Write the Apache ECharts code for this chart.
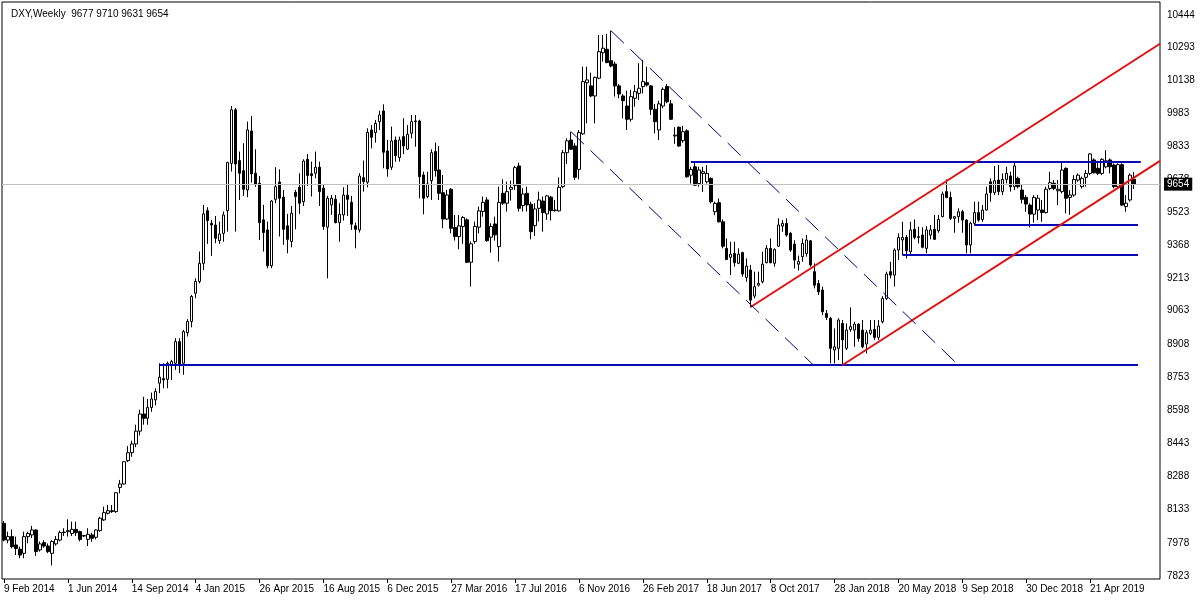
<!DOCTYPE html>
<html><head><meta charset="utf-8">
<script src="https://cdn.jsdelivr.net/npm/echarts@6/dist/echarts.min.js"></script>
<style>html,body{margin:0;padding:0;background:#fff}#c{width:1200px;height:600px}</style>
</head><body><div id="c"></div>
<script>
// Weekly DXY candles (values x100), bar 0 = week of 9 Feb 2014
const opens = [
8069,7991,8007,7968,7948,7929,8007,8015,8038,7945,
7979,7963,7929,7973,7991,8026,8030,8022,8041,8030,
8010,7994,8015,8004,8035,8085,8116,8128,8124,8237,
8253,8362,8399,8440,8500,8580,8560,8610,8646,8724,
8745,8742,8810,8817,8918,8817,8960,9012,9144,9199,
9284,9530,9471,9463,9390,9424,9530,9751,10001,9764,
9717,9627,9902,9705,9658,9487,9440,9273,9583,9664,
9593,9459,9386,9616,9639,9572,9770,9702,9705,9733,
9635,9453,9557,9583,9474,9510,9603,9569,9459,9440,
9684,9663,9907,9895,9946,9996,9809,9733,9860,9778,
9876,9818,9892,9946,9949,9697,9596,9670,9806,9720,
9614,9491,9630,9451,9409,9456,9487,9289,9386,9453,
9526,9580,9406,9468,9362,9611,9565,9630,9647,9739,
9554,9611,9560,9460,9541,9575,9515,9593,9530,9529,
9642,9801,9860,9832,9723,9889,10128,10113,10066,10149,
10268,10284,10231,10215,10113,10066,10019,9957,10055,10078,
10110,10128,10113,10004,9907,10019,10110,10029,9879,9920,
9857,9903,9696,9735,9657,9704,9665,9681,9525,9567,
9478,9354,9312,9330,9284,9334,9218,9253,9131,9182,
9198,9287,9354,9284,9364,9458,9470,9424,9374,9280,
9315,9330,9389,9245,9190,9159,9050,9027,8879,8887,
9003,8887,8975,8972,9000,8972,8907,8957,8975,8938,
9011,9120,9245,9229,9346,9393,9405,9338,9443,9405,
9416,9354,9416,9443,9436,9502,9619,9592,9494,9502,
9525,9486,9370,9471,9521,9489,9533,9665,9614,9673,
9619,9676,9692,9642,9681,9626,9592,9556,9514,9533,
9533,9521,9634,9658,9623,9619,9728,9592,9603,9673,
9642,9686,9704,9767,9728,9704,9735,9767,9743,9642,
9745,9549,9580,9677];
const highs = [
8080,8030,8041,8007,7960,8030,8030,8057,8041,7984,
7990,7975,7990,8010,8035,8046,8088,8077,8077,8035,
8015,8046,8025,8041,8100,8147,8155,8155,8215,8272,
8360,8430,8455,8530,8600,8660,8650,8680,8700,8817,
8817,8825,8833,8934,8934,8973,9023,9136,9214,9339,
9557,9546,9487,9505,9479,9526,9759,10019,10010,9806,
9845,9946,9973,9817,9692,9557,9479,9580,9733,9723,
9627,9515,9552,9627,9705,9770,9795,9759,9806,9759,
9655,9599,9603,9603,9565,9639,9655,9599,9474,9705,
9764,9915,9930,9954,9997,10027,9860,9923,9876,9876,
9962,9930,9977,9977,9955,9712,9712,9817,9848,9832,
9697,9627,9635,9510,9510,9505,9494,9386,9479,9549,
9596,9593,9471,9502,9642,9677,9666,9670,9739,9754,
9635,9642,9572,9565,9619,9596,9603,9599,9580,9686,
9814,9868,9899,9845,9907,10203,10203,10175,10156,10351,
10351,10356,10371,10226,10122,10075,10091,10094,10117,10219,
10234,10203,10117,10029,10044,10106,10122,10047,9920,9923,
9926,9910,9735,9754,9735,9735,9743,9685,9572,9587,
9489,9400,9385,9385,9354,9338,9307,9276,9245,9245,
9338,9369,9400,9354,9494,9486,9494,9431,9392,9320,
9400,9416,9393,9284,9206,9175,9066,9034,8980,9027,
9019,9003,9078,9011,9003,9019,8972,9019,9019,9019,
9131,9245,9291,9354,9424,9478,9416,9478,9489,9455,
9452,9458,9463,9510,9510,9619,9676,9619,9505,9541,
9533,9490,9478,9572,9572,9556,9642,9681,9738,9743,
9704,9735,9712,9754,9689,9650,9603,9564,9603,9603,
9580,9642,9712,9673,9673,9759,9732,9626,9696,9704,
9689,9720,9798,9774,9763,9775,9813,9774,9751,9751,
9751,9603,9704,9710];
const lows = [
7985,7976,7952,7921,7906,7906,7976,8000,7917,7937,
7955,7930,7872,7965,7985,8010,8007,8010,8010,7985,
8005,7963,7983,7994,8030,8080,8110,8118,8118,8209,
8250,8355,8380,8425,8480,8530,8530,8590,8620,8677,
8700,8700,8739,8786,8771,8763,8942,8985,9121,9190,
9253,9375,9319,9378,9375,9385,9432,9713,9432,9580,
9599,9593,9661,9642,9393,9339,9261,9261,9565,9409,
9370,9331,9359,9443,9515,9552,9646,9596,9681,9552,
9440,9214,9510,9471,9385,9484,9505,9440,9354,9428,
9619,9639,9821,9848,9907,9728,9689,9720,9759,9759,
9795,9814,9868,9829,9588,9513,9588,9580,9689,9580,
9448,9487,9424,9390,9350,9375,9285,9175,9375,9424,
9502,9385,9334,9390,9292,9557,9526,9577,9627,9526,
9526,9526,9396,9412,9479,9432,9487,9484,9526,9526,
9635,9748,9814,9674,9677,9884,9938,10060,9938,10144,
10226,10219,10200,10063,10055,9961,9907,9946,10016,10047,
10078,10110,9977,9891,9860,10008,10032,9954,9842,9829,
9848,9685,9657,9645,9642,9618,9657,9564,9509,9475,
9354,9299,9229,9268,9280,9221,9198,9078,9120,9175,
9190,9284,9284,9268,9360,9431,9408,9338,9260,9250,
9291,9315,9268,9167,9136,9042,9019,8817,8817,8832,
8809,8879,8964,8894,8918,8887,8863,8949,8926,8926,
9003,9112,9214,9175,9300,9323,9307,9323,9396,9377,
9354,9331,9396,9393,9427,9499,9588,9486,9427,9474,
9427,9331,9331,9463,9478,9478,9530,9572,9603,9603,
9603,9658,9619,9626,9634,9564,9525,9452,9474,9486,
9478,9517,9626,9626,9556,9611,9517,9510,9595,9665,
9634,9642,9696,9704,9696,9696,9728,9704,9634,9634,
9552,9525,9572,9631];
const closes = [
7991,8007,7960,7952,7921,8007,8022,8038,7937,7973,
7963,7937,7984,7994,8026,8028,8035,8041,8026,7994,
8012,8018,7999,8038,8093,8119,8128,8124,8212,8253,
8357,8399,8440,8500,8580,8560,8610,8650,8685,8752,
8739,8817,8825,8918,8814,8965,9012,9129,9199,9284,
9515,9484,9463,9401,9421,9510,9755,10001,9748,9705,
9630,9907,9702,9653,9474,9428,9273,9575,9642,9588,
9443,9396,9518,9596,9565,9762,9694,9694,9733,9619,
9456,9588,9588,9474,9513,9603,9583,9467,9443,9692,
9666,9896,9873,9938,9977,9803,9725,9856,9787,9860,
9832,9887,9946,9949,9689,9588,9655,9801,9717,9611,
9491,9603,9448,9409,9459,9498,9289,9375,9456,9529,
9569,9390,9456,9417,9569,9565,9619,9639,9731,9541,
9608,9557,9432,9538,9580,9521,9599,9530,9533,9639,
9801,9856,9817,9686,9895,10133,10141,10066,10153,10273,
10289,10222,10206,10113,10075,10044,9957,10063,10086,10102,
10133,10117,10004,9946,10029,10097,10039,9957,9883,9832,
9899,9688,9723,9649,9720,9712,9704,9572,9564,9478,
9364,9302,9327,9287,9327,9234,9271,9112,9175,9190,
9280,9354,9287,9349,9463,9470,9416,9346,9299,9292,
9377,9393,9276,9182,9151,9058,9031,8887,8894,9019,
8926,8972,8988,9000,8933,8894,8960,8972,8938,8991,
9120,9234,9229,9346,9405,9405,9343,9440,9405,9409,
9359,9440,9440,9396,9489,9608,9592,9494,9502,9525,
9486,9370,9471,9521,9486,9533,9608,9614,9670,9619,
9676,9704,9642,9739,9642,9583,9561,9514,9592,9588,
9521,9630,9661,9634,9630,9720,9588,9603,9676,9696,
9681,9704,9795,9707,9704,9770,9763,9735,9642,9745,
9556,9565,9696,9654];

const xTickLabels = ["9 Feb 2014","1 Jun 2014","14 Sep 2014","4 Jan 2015","26 Apr 2015","16 Aug 2015","6 Dec 2015","27 Mar 2016","17 Jul 2016","6 Nov 2016","26 Feb 2017","18 Jun 2017","8 Oct 2017","28 Jan 2018","20 May 2018","9 Sep 2018","30 Dec 2018","21 Apr 2019"];
const yTicks = [7823,7978,8133,8288,8443,8598,8753,8908,9063,9213,9368,9523,9678,9833,9983,10138,10293,10444];
const header = "DXY,Weekly  9677 9710 9631 9654";
const lastPrice = 9654;

// analysis objects: [bar index, price]
const blueLevels = [
  [[39, 8809], [284, 8809]],
  [[172, 9757], [284.7, 9757]],
  [[243, 9463], [284, 9463]],
  [[225, 9323], [284, 9323]]
];
const redChannel = [
  [[187, 9080], [289.5, 10310]],
  [[210, 8809], [289.5, 9763]]
];
const dashedChannel = [
  [[152, 10371], [239, 8809]],
  [[142, 9899], [202.7, 8809]]
];

const SLOTS = 290; // bars plus empty right margin
const slots = [];
for (let i = 0; i < SLOTS; i++) slots.push(String(i));
const candles = opens.map((o, i) => [o, closes[i], lows[i], highs[i]]);
const TICK_STEP = 16;
const showTick = (idx) => idx % TICK_STEP === 0 && idx / TICK_STEP < xTickLabels.length;
const FONT = 'Liberation Sans';

function lineSeries(pts, color, width, type) {
  return {
    type: 'line', xAxisIndex: 1, yAxisIndex: 0, data: pts, showSymbol: false, symbol: 'none',
    silent: true, z: 5, animation: false,
    lineStyle: { color: color, width: width, type: type }
  };
}

const series = [{
  type: 'candlestick', xAxisIndex: 0, yAxisIndex: 0, data: candles, barWidth: 3, z: 3,
  itemStyle: { color: '#ffffff', color0: '#000000', borderColor: '#000000', borderColor0: '#000000', borderWidth: 1 },
  markLine: {
    silent: true, symbol: ['none', 'none'], animation: false,
    lineStyle: { color: '#c0c0c0', width: 1, type: 'solid' },
    label: { show: true, position: 'end', formatter: String(lastPrice), color: '#fff', backgroundColor: '#000',
      padding: [2, 3, 1, 3], fontSize: 10, fontFamily: FONT, distance: 4 },
    data: [{ yAxis: lastPrice }]
  }
}];
blueLevels.forEach(p => series.push(lineSeries(p, '#0a0ab4', 2, 'solid')));
redChannel.forEach(p => series.push(lineSeries(p, '#e01010', 2, 'solid')));
dashedChannel.forEach(p => series.push(lineSeries(p, '#000080', 1, [18, 9])));

const chart = echarts.init(document.getElementById('c'), null, { renderer: 'canvas' });
chart.setOption({
  animation: false,
  backgroundColor: '#ffffff',
  title: { text: header, left: 6, top: 4, textStyle: { fontSize: 10, fontWeight: 'normal', color: '#000', fontFamily: FONT } },
  grid: { left: 2, right: 40, top: 2, bottom: 21, show: true, borderColor: '#000', borderWidth: 1, backgroundColor: 'transparent' },
  xAxis: [{
    type: 'category', data: slots, boundaryGap: true,
    axisLine: { show: false },
    axisTick: { show: true, alignWithLabel: true, interval: showTick, length: 4, lineStyle: { color: '#000' } },
    axisLabel: { interval: showTick, align: 'left', margin: 5, fontSize: 10, color: '#000', fontFamily: FONT,
      formatter: (v, idx) => xTickLabels[idx / TICK_STEP] || '' },
    splitLine: { show: false }
  }, {
    type: 'value', min: -0.5, max: SLOTS - 0.5, show: false, gridIndex: 0
  }],
  yAxis: [{
    type: 'value', position: 'right', min: 7809, max: 10505, scale: true,
    axisLine: { show: false },
    axisTick: { show: false },
    axisLabel: { customValues: yTicks, margin: 7, fontSize: 10, color: '#000', fontFamily: FONT,
      formatter: (v) => String(Math.round(v)) },
    splitLine: { show: false }
  }],
  series: series
});
</script></body></html>
